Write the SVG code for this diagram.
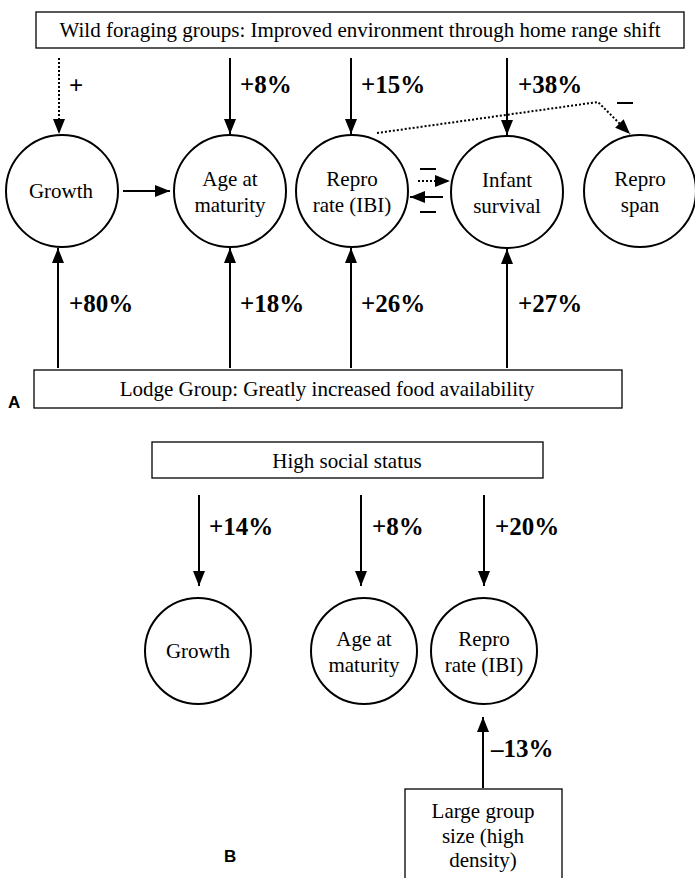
<svg xmlns="http://www.w3.org/2000/svg" width="695" height="878" viewBox="0 0 695 878">
<style>
.box{fill:#fff;stroke:#000;stroke-width:1.3}
.c{fill:#fff;stroke:#000;stroke-width:2}
.t{font-family:"Liberation Serif","Times New Roman","DejaVu Serif",serif;font-size:21px;text-anchor:middle;fill:#000}
.p{font-family:"Liberation Serif","Times New Roman","DejaVu Serif",serif;font-size:25px;font-weight:bold;fill:#000}
.ln{stroke:#000;stroke-width:2;fill:none}
.dt{stroke:#000;stroke-width:2;stroke-dasharray:2 2;fill:none}
.lab{font-family:"Liberation Sans",Arial,sans-serif;font-size:17px;font-weight:bold;fill:#000}
</style>
<defs>
<marker id="ahb" viewBox="0 0 10 10" refX="10" refY="5" markerWidth="15" markerHeight="15" markerUnits="userSpaceOnUse" orient="auto">
<path d="M0,1 L10,5 L0,9 z" fill="#000"/>
</marker>
</defs>

<g id="wild-box"><rect class="box" x="36" y="12" width="648" height="36"/><text class="t" x="360" y="37">Wild foraging groups: Improved environment through home range shift</text></g>
<g id="lodge-box"><rect class="box" x="34" y="370" width="588" height="38"/><text class="t" x="327" y="396">Lodge Group: Greatly increased food availability</text></g>
<text class="lab" x="8" y="408">A</text>

<g id="a-growth"><circle class="c" cx="62" cy="191" r="56"/><text class="t" x="61" y="198">Growth</text></g>
<g id="a-age"><circle class="c" cx="230" cy="191" r="56"/><text class="t" x="230" y="186">Age at</text><text class="t" x="230" y="212">maturity</text></g>
<g id="a-repro"><circle class="c" cx="352" cy="191" r="56"/><text class="t" x="352" y="186">Repro</text><text class="t" x="352" y="212">rate (IBI)</text></g>
<g id="a-infant"><circle class="c" cx="507" cy="192" r="56"/><text class="t" x="507" y="187">Infant</text><text class="t" x="507" y="213">survival</text></g>
<g id="a-span"><circle class="c" cx="640" cy="191" r="56"/><text class="t" x="640" y="186">Repro</text><text class="t" x="640" y="212">span</text></g>

<g id="connectors">
<line class="dt" x1="59" y1="58" x2="59" y2="134" marker-end="url(#ahb)"/>
<line class="ln" x1="230" y1="58" x2="230" y2="134" marker-end="url(#ahb)"/>
<line class="ln" x1="351" y1="58" x2="351" y2="134" marker-end="url(#ahb)"/>
<line class="ln" x1="507" y1="58" x2="507" y2="135" marker-end="url(#ahb)"/>
<polyline class="dt" points="377,133 598,102 630,134" marker-end="url(#ahb)"/>
<line class="ln" x1="123" y1="191" x2="170" y2="191" marker-end="url(#ahb)"/>
<line class="dt" x1="418" y1="181" x2="450" y2="181" marker-end="url(#ahb)"/>
<line class="ln" x1="443" y1="197" x2="410" y2="197" marker-end="url(#ahb)"/>
<line class="ln" x1="58" y1="368" x2="58" y2="248" marker-end="url(#ahb)"/>
<line class="ln" x1="230" y1="368" x2="230" y2="248" marker-end="url(#ahb)"/>
<line class="ln" x1="351" y1="368" x2="351" y2="248" marker-end="url(#ahb)"/>
<line class="ln" x1="507" y1="368" x2="507" y2="249" marker-end="url(#ahb)"/>
<line class="ln" x1="199" y1="495" x2="199" y2="586" marker-end="url(#ahb)"/>
<line class="ln" x1="361" y1="495" x2="361" y2="586" marker-end="url(#ahb)"/>
<line class="ln" x1="484" y1="495" x2="484" y2="586" marker-end="url(#ahb)"/>
<line class="ln" x1="483" y1="788" x2="483" y2="717" marker-end="url(#ahb)"/>
<line class="ln" x1="420" y1="169" x2="436" y2="169"/>
<line class="ln" x1="420" y1="212" x2="436" y2="212"/>
<line class="ln" x1="617" y1="103" x2="633" y2="103"/>
</g>

<text class="p" x="69" y="94">+</text>
<text class="p" x="240" y="93">+8%</text>
<text class="p" x="361" y="93">+15%</text>
<text class="p" x="518" y="93">+38%</text>
<text class="p" x="69" y="312">+80%</text>
<text class="p" x="240" y="312">+18%</text>
<text class="p" x="361" y="312">+26%</text>
<text class="p" x="518" y="312">+27%</text>

<g id="high-box"><rect class="box" x="152" y="442" width="391" height="36"/><text class="t" x="347" y="468">High social status</text></g>
<g id="b-growth"><circle class="c" cx="198" cy="651" r="53"/><text class="t" x="198" y="658">Growth</text></g>
<g id="b-age"><circle class="c" cx="364" cy="651" r="53"/><text class="t" x="364" y="646">Age at</text><text class="t" x="364" y="672">maturity</text></g>
<g id="b-repro"><circle class="c" cx="484" cy="651" r="53"/><text class="t" x="484" y="646">Repro</text><text class="t" x="484" y="672">rate (IBI)</text></g>
<g id="group-box"><rect class="box" x="405" y="789" width="157" height="100"/><text class="t" x="483" y="818">Large group</text><text class="t" x="483" y="843">size (high</text><text class="t" x="483" y="867">density)</text></g>
<text class="lab" x="224" y="862">B</text>

<text class="p" x="209" y="535">+14%</text>
<text class="p" x="372" y="535">+8%</text>
<text class="p" x="495" y="535">+20%</text>
<text class="p" x="491" y="757">–13%</text>
</svg>
